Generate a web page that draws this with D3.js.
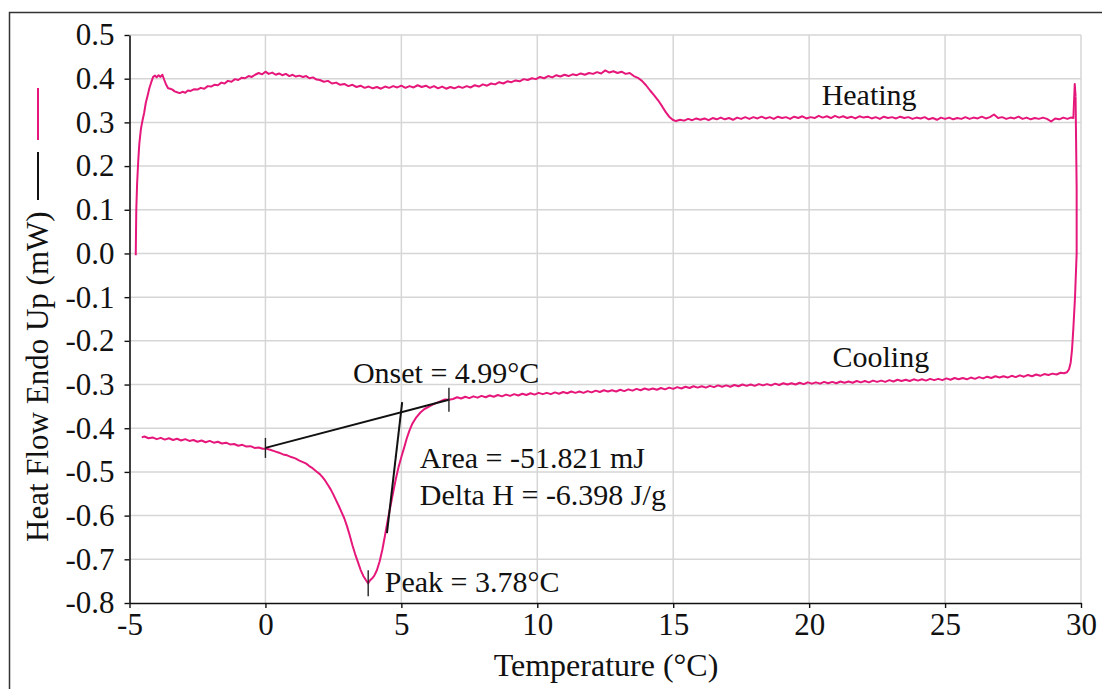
<!DOCTYPE html>
<html>
<head>
<meta charset="utf-8">
<script src="https://cdn.jsdelivr.net/npm/d3@7"></script>
<style>
  html, body { margin: 0; padding: 0; background: #fff; }
  svg { display: block; }
  text { font-family: "Liberation Serif", "Times New Roman", serif; fill: #111; }
</style>
</head>
<body>
<svg id="chart" width="1102" height="689"></svg>
<script>
// DSC thermogram: heat flow (mW) against temperature (°C)
const xTicks = [-5, 0, 5, 10, 15, 20, 25, 30];
const yTicks = [0.5, 0.4, 0.3, 0.2, 0.1, 0.0, -0.1, -0.2, -0.3, -0.4, -0.5, -0.6, -0.7, -0.8];

// heating scan: [temperature, heat flow]
const heating = [
  [-4.77,-0.004],[-4.76,0.05],[-4.75,0.10],[-4.72,0.16],[-4.68,0.21],[-4.64,0.25],[-4.58,0.285],
  [-4.52,0.305],[-4.46,0.322],[-4.40,0.345],[-4.33,0.362],[-4.27,0.378],[-4.20,0.392],[-4.13,0.404],
  [-4.06,0.407],[-4.00,0.403],[-3.93,0.408],[-3.86,0.404],[-3.79,0.409],[-3.72,0.397],[-3.65,0.386],
  [-3.58,0.378],[-3.50,0.377],[-3.42,0.375],[-3.34,0.371],[-3.25,0.369],[-3.15,0.367],[-3.05,0.370],
  [-2.95,0.368],[-2.85,0.373],[-2.75,0.372],[-2.62,0.376],[-2.50,0.375],[-2.38,0.379],[-2.25,0.377],
  [-2.12,0.383],[-2.00,0.382],[-1.88,0.386],[-1.75,0.385],[-1.62,0.391],[-1.50,0.389],[-1.38,0.395],
  [-1.25,0.393],[-1.12,0.399],[-1.00,0.397],[-0.88,0.402],[-0.75,0.401],[-0.62,0.406],[-0.50,0.404],
  [-0.38,0.409],[-0.25,0.413],[-0.12,0.410],[0.00,0.416],[0.12,0.411],[0.25,0.414],[0.38,0.409],
  [0.50,0.412],[0.62,0.408],[0.75,0.411],[0.88,0.406],[1.00,0.409],[1.12,0.405],[1.25,0.407],
  [1.38,0.404],[1.50,0.406],[1.62,0.401],[1.75,0.403],[1.88,0.398],[2.00,0.397],[2.15,0.393],
  [2.30,0.395],[2.45,0.389],[2.60,0.391],[2.75,0.386],[2.90,0.388],[3.05,0.383],[3.20,0.386],
  [3.35,0.381],[3.50,0.384],[3.65,0.379],[3.80,0.382],[3.95,0.378],[4.10,0.381],[4.25,0.377],
  [4.40,0.382],[4.55,0.379],[4.70,0.383],[4.85,0.380],[5.00,0.384],[5.15,0.379],[5.30,0.383],
  [5.45,0.380],[5.60,0.385],[5.75,0.381],[5.90,0.384],[6.05,0.379],[6.20,0.383],[6.35,0.378],
  [6.50,0.382],[6.65,0.377],[6.80,0.381],[6.95,0.378],[7.10,0.382],[7.25,0.379],[7.40,0.383],
  [7.55,0.380],[7.70,0.385],[7.85,0.382],[8.00,0.387],[8.15,0.384],[8.30,0.389],[8.45,0.387],
  [8.60,0.392],[8.75,0.389],[8.90,0.394],[9.05,0.392],[9.20,0.396],[9.35,0.394],[9.50,0.399],
  [9.65,0.397],[9.80,0.401],[9.95,0.399],[10.10,0.404],[10.25,0.401],[10.40,0.406],[10.55,0.403],
  [10.70,0.408],[10.85,0.405],[11.00,0.409],[11.15,0.406],[11.30,0.410],[11.45,0.408],[11.60,0.412],
  [11.75,0.409],[11.90,0.413],[12.05,0.411],[12.20,0.415],[12.35,0.412],[12.50,0.419],[12.65,0.414],
  [12.80,0.417],[12.95,0.413],[13.10,0.416],[13.25,0.411],[13.40,0.413],[13.55,0.406],[13.70,0.402],
  [13.85,0.395],[14.00,0.385],[14.15,0.373],[14.30,0.362],[14.45,0.350],[14.60,0.336],[14.72,0.324],
  [14.85,0.313],[14.98,0.306],[15.10,0.303],[15.25,0.306],[15.40,0.304],[15.55,0.308],[15.70,0.305],
  [15.85,0.309],[16.00,0.306],[16.15,0.309],[16.30,0.305],[16.45,0.310],[16.60,0.307],[16.75,0.311],
  [16.90,0.307],[17.05,0.310],[17.20,0.306],[17.35,0.311],[17.50,0.308],[17.65,0.312],[17.80,0.308],
  [17.95,0.312],[18.10,0.309],[18.25,0.313],[18.40,0.309],[18.55,0.312],[18.70,0.308],[18.85,0.313],
  [19.00,0.310],[19.15,0.312],[19.30,0.308],[19.45,0.313],[19.60,0.310],[19.75,0.314],[19.90,0.309],
  [20.05,0.312],[20.20,0.310],[20.35,0.315],[20.50,0.311],[20.65,0.314],[20.80,0.310],[20.95,0.315],
  [21.10,0.311],[21.25,0.314],[21.40,0.310],[21.55,0.313],[21.70,0.309],[21.85,0.314],[22.00,0.311],
  [22.15,0.313],[22.30,0.309],[22.45,0.312],[22.60,0.308],[22.75,0.313],[22.90,0.310],[23.05,0.312],
  [23.20,0.309],[23.35,0.313],[23.50,0.310],[23.65,0.312],[23.80,0.308],[23.95,0.311],[24.10,0.309],
  [24.25,0.312],[24.40,0.307],[24.55,0.310],[24.70,0.306],[24.85,0.311],[25.00,0.308],[25.15,0.311],
  [25.30,0.307],[25.45,0.310],[25.60,0.308],[25.75,0.312],[25.90,0.308],[26.05,0.311],[26.20,0.309],
  [26.35,0.313],[26.50,0.309],[26.65,0.312],[26.80,0.318],[26.95,0.310],[27.10,0.312],[27.25,0.308],
  [27.40,0.311],[27.55,0.309],[27.70,0.313],[27.85,0.308],[28.00,0.311],[28.15,0.307],[28.30,0.310],
  [28.45,0.308],[28.60,0.311],[28.75,0.308],[28.90,0.302],[29.05,0.309],[29.20,0.307],[29.35,0.311],
  [29.50,0.308],[29.62,0.311],[29.72,0.310],[29.77,0.388],[29.80,0.360]
];

// cooling scan, recorded from 30 °C downward: [temperature, heat flow]
const cooling = [
  [29.80,0.360],[29.84,0.150],[29.84,0.000],[29.78,-0.100],[29.72,-0.170],[29.67,-0.220],[29.62,-0.250],
  [29.56,-0.265],[29.48,-0.272],[29.38,-0.274],[29.25,-0.273],[29.10,-0.277],[28.95,-0.275],[28.80,-0.278],
  [28.65,-0.276],[28.50,-0.280],[28.35,-0.277],[28.20,-0.281],[28.05,-0.278],[27.90,-0.282],[27.75,-0.279],
  [27.60,-0.283],[27.45,-0.280],[27.30,-0.284],[27.15,-0.281],[27.00,-0.284],[26.85,-0.281],[26.70,-0.285],
  [26.55,-0.282],[26.40,-0.286],[26.25,-0.283],[26.10,-0.287],[25.95,-0.284],[25.80,-0.288],[25.65,-0.285],
  [25.50,-0.288],[25.35,-0.285],[25.20,-0.289],[25.05,-0.286],[24.90,-0.290],[24.75,-0.287],[24.60,-0.290],
  [24.45,-0.287],[24.30,-0.291],[24.15,-0.288],[24.00,-0.291],[23.85,-0.288],[23.70,-0.292],[23.55,-0.289],
  [23.40,-0.292],[23.25,-0.289],[23.10,-0.293],[22.95,-0.290],[22.80,-0.294],[22.65,-0.291],[22.50,-0.294],
  [22.35,-0.291],[22.20,-0.295],[22.05,-0.292],[21.90,-0.295],[21.75,-0.292],[21.60,-0.296],[21.45,-0.293],
  [21.30,-0.296],[21.15,-0.293],[21.00,-0.297],[20.85,-0.294],[20.70,-0.297],[20.55,-0.294],[20.40,-0.298],
  [20.25,-0.295],[20.10,-0.298],[19.95,-0.295],[19.80,-0.299],[19.65,-0.296],[19.50,-0.300],[19.35,-0.297],
  [19.20,-0.300],[19.05,-0.297],[18.90,-0.301],[18.75,-0.298],[18.60,-0.302],[18.45,-0.299],[18.30,-0.302],
  [18.15,-0.299],[18.00,-0.303],[17.85,-0.300],[17.70,-0.303],[17.55,-0.300],[17.40,-0.304],[17.25,-0.301],
  [17.10,-0.305],[16.95,-0.302],[16.80,-0.305],[16.65,-0.302],[16.50,-0.306],[16.35,-0.303],[16.20,-0.307],
  [16.05,-0.304],[15.90,-0.307],[15.75,-0.304],[15.60,-0.308],[15.45,-0.305],[15.30,-0.309],[15.15,-0.306],
  [15.00,-0.310],[14.85,-0.307],[14.70,-0.311],[14.55,-0.308],[14.40,-0.312],[14.25,-0.309],[14.10,-0.312],
  [13.95,-0.309],[13.80,-0.313],[13.65,-0.310],[13.50,-0.314],[13.35,-0.311],[13.20,-0.315],[13.05,-0.312],
  [12.90,-0.316],[12.75,-0.313],[12.60,-0.316],[12.45,-0.313],[12.30,-0.317],[12.15,-0.314],[12.00,-0.318],
  [11.85,-0.315],[11.70,-0.319],[11.55,-0.316],[11.40,-0.319],[11.25,-0.316],[11.10,-0.320],[10.95,-0.317],
  [10.80,-0.321],[10.65,-0.318],[10.50,-0.322],[10.35,-0.319],[10.20,-0.322],[10.05,-0.319],[9.90,-0.323],
  [9.75,-0.320],[9.60,-0.324],[9.45,-0.321],[9.30,-0.325],[9.15,-0.322],[9.00,-0.326],[8.85,-0.323],
  [8.70,-0.327],[8.55,-0.324],[8.40,-0.328],[8.25,-0.325],[8.10,-0.329],[7.95,-0.326],[7.80,-0.330],
  [7.65,-0.327],[7.50,-0.331],[7.35,-0.328],[7.20,-0.332],[7.05,-0.329],[6.90,-0.333],[6.75,-0.335],
  [6.60,-0.334],[6.45,-0.338],[6.30,-0.342],[6.15,-0.346],[6.00,-0.351],[5.85,-0.356],[5.70,-0.364],
  [5.55,-0.375],[5.40,-0.390],[5.30,-0.405],[5.20,-0.423],[5.10,-0.445],[5.00,-0.466],[4.90,-0.488],
  [4.80,-0.515],[4.70,-0.546],[4.60,-0.578],[4.50,-0.610],[4.40,-0.645],[4.30,-0.678],[4.20,-0.705],
  [4.10,-0.725],[4.00,-0.738],[3.92,-0.744],[3.85,-0.748],[3.78,-0.755],[3.70,-0.748],[3.60,-0.738],
  [3.50,-0.724],[3.40,-0.706],[3.30,-0.688],[3.20,-0.668],[3.10,-0.645],[3.00,-0.624],[2.90,-0.606],
  [2.80,-0.592],[2.70,-0.578],[2.60,-0.565],[2.50,-0.552],[2.40,-0.540],[2.30,-0.530],[2.20,-0.520],
  [2.10,-0.512],[2.00,-0.505],[1.90,-0.500],[1.80,-0.495],[1.70,-0.490],[1.60,-0.486],[1.50,-0.481],
  [1.40,-0.478],[1.25,-0.474],[1.10,-0.469],[0.95,-0.466],[0.80,-0.462],[0.65,-0.460],[0.50,-0.456],
  [0.35,-0.453],[0.20,-0.450],[0.05,-0.447],[-0.10,-0.447],[-0.25,-0.444],[-0.40,-0.445],[-0.55,-0.441],
  [-0.70,-0.442],[-0.85,-0.438],[-1.00,-0.440],[-1.15,-0.436],[-1.30,-0.437],[-1.45,-0.433],[-1.60,-0.435],
  [-1.75,-0.431],[-1.90,-0.433],[-2.05,-0.429],[-2.20,-0.432],[-2.35,-0.428],[-2.50,-0.431],[-2.65,-0.427],
  [-2.80,-0.429],[-2.95,-0.425],[-3.10,-0.428],[-3.25,-0.424],[-3.40,-0.427],[-3.55,-0.423],[-3.70,-0.426],
  [-3.85,-0.422],[-4.00,-0.425],[-4.15,-0.421],[-4.30,-0.423],[-4.45,-0.419],[-4.55,-0.421]
];

// peak analysis of the cooling exotherm
const baselineStart = [0.00, -0.445];
const baselineEnd = [6.75, -0.335];
const tangentTop = [5.03, -0.340];
const tangentBottom = [4.47, -0.640];
const peakPoint = [3.78, -0.755];

// text labels placed in data coordinates
const labels = [
  { text: "Heating", x: 20.46, y: 0.340 },
  { text: "Cooling", x: 20.86, y: -0.260 },
  { text: "Onset = 4.99°C", x: 3.22, y: -0.2965 },
  { text: "Area = -51.821 mJ", x: 5.68, y: -0.491 },
  { text: "Delta H = -6.398 J/g", x: 5.68, y: -0.576 },
  { text: "Peak = 3.78°C", x: 4.39, y: -0.775 }
];

const svg = d3.select("#chart");
const pink = "#e6177b";

const x = d3.scaleLinear().domain([-5, 30]).range([129.5, 1081]);
const y = d3.scaleLinear().domain([-0.8, 0.5]).range([603, 35]);

// outer frame
svg.append("rect")
  .attr("x", 9.5).attr("y", 12.5).attr("width", 1110).attr("height", 700)
  .attr("fill", "none").attr("stroke", "#333").attr("stroke-width", 1.5);

// grid
const grid = svg.append("g").attr("stroke", "#d6d6d6").attr("stroke-width", 1.5);
grid.selectAll("line.v").data(xTicks.filter(d => d !== -5)).join("line")
  .attr("class", "v")
  .attr("x1", d => x(d)).attr("x2", d => x(d))
  .attr("y1", y(0.5)).attr("y2", y(-0.8));
grid.selectAll("line.h").data(yTicks.filter(d => d !== -0.8)).join("line")
  .attr("class", "h")
  .attr("x1", x(-5)).attr("x2", x(30))
  .attr("y1", d => y(d)).attr("y2", d => y(d));

// axes
const fontSize = 31;
const yAxis = svg.append("g")
  .attr("transform", `translate(${x(-5)},0)`)
  .call(d3.axisLeft(y).tickValues(yTicks).tickFormat(d => d.toFixed(1))
    .tickSize(5).tickSizeOuter(0).tickPadding(10));
const xAxis = svg.append("g")
  .attr("transform", `translate(0,${y(-0.8)})`)
  .call(d3.axisBottom(x).tickValues(xTicks).tickFormat(d => String(d))
    .tickSize(5).tickSizeOuter(0).tickPadding(5));
[yAxis, xAxis].forEach(g => {
  g.attr("font-family", null).attr("font-size", null);
  g.select(".domain").attr("stroke", "#111").attr("stroke-width", 1.6);
  g.selectAll(".tick line").attr("stroke", "#111").attr("stroke-width", 1.4);
  g.selectAll(".tick text").style("font-size", fontSize + "px").attr("fill", "#111");
});

// curves
const line = d3.line().x(d => x(d[0])).y(d => y(d[1]));
[heating, cooling].forEach(series => {
  svg.append("path").datum(series)
    .attr("d", line)
    .attr("fill", "none").attr("stroke", pink)
    .attr("stroke-width", 2).attr("stroke-linejoin", "round");
});

// baseline, onset tangent and tick marks
const ann = svg.append("g").attr("stroke", "#111").attr("stroke-width", 2).attr("fill", "none");
ann.append("line")
  .attr("x1", x(baselineStart[0])).attr("y1", y(baselineStart[1]))
  .attr("x2", x(baselineEnd[0])).attr("y2", y(baselineEnd[1]));
ann.append("line")
  .attr("x1", x(tangentTop[0])).attr("y1", y(tangentTop[1]))
  .attr("x2", x(tangentBottom[0])).attr("y2", y(tangentBottom[1]));
const marks = svg.append("g").attr("stroke", "#222").attr("stroke-width", 1.4);
[[baselineStart, 10], [baselineEnd, 12], [peakPoint, 13]].forEach(([p, h]) => {
  marks.append("line")
    .attr("x1", x(p[0])).attr("x2", x(p[0]))
    .attr("y1", y(p[1]) - h).attr("y2", y(p[1]) + h);
});

// labels
svg.append("g").selectAll("text").data(labels).join("text")
  .attr("x", d => x(d.x)).attr("y", d => y(d.y))
  .style("font-size", "30px")
  .text(d => d.text);

// axis titles
svg.append("text")
  .attr("x", 606).attr("y", 676)
  .attr("text-anchor", "middle")
  .style("font-size", "32px")
  .text("Temperature (°C)");

svg.append("text")
  .attr("transform", "translate(48,542) rotate(-90)")
  .style("font-size", "31px")
  .text("Heat Flow Endo Up (mW)");

// series key beside the y title
svg.append("line").attr("x1", 38).attr("x2", 38).attr("y1", 152).attr("y2", 200)
  .attr("stroke", "#111").attr("stroke-width", 2);
svg.append("line").attr("x1", 38).attr("x2", 38).attr("y1", 88).attr("y2", 140)
  .attr("stroke", pink).attr("stroke-width", 2);
</script>
</body>
</html>
